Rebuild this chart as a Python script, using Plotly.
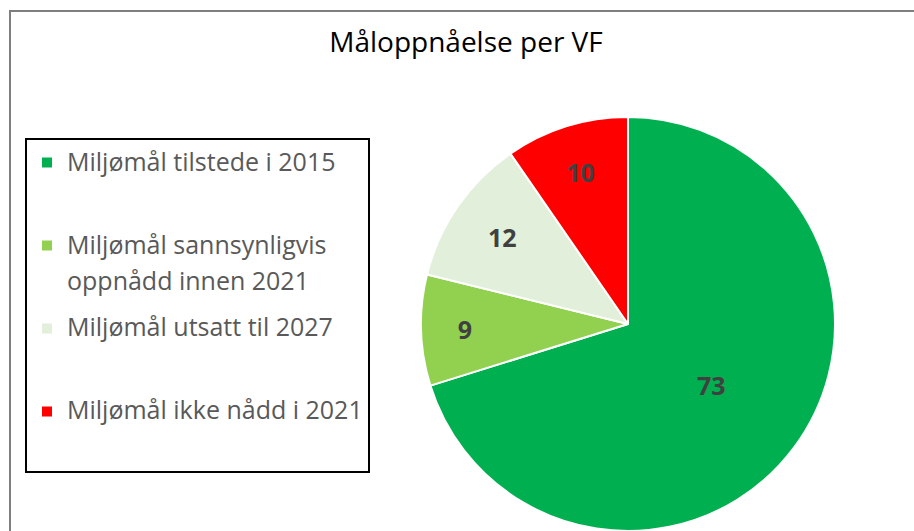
import plotly.graph_objects as go

W, H = 914, 531

categories = [
    "Miljømål tilstede i 2015",
    "Miljømål sannsynligvis<br>oppnådd innen 2021",
    "Miljømål utsatt til 2027",
    "Miljømål ikke nådd i 2021",
]
values = [73, 9, 12, 10]
colors = ["#00B050", "#92D050", "#E2EFDA", "#FF0000"]
title_text = "Måloppnåelse per VF"

# Legend labels are laid on a fine line grid (small base font, large visible glyphs):
# the marker sits on grid line 1, text starts on grid line 2, wrapped lines sit 6 grid
# lines apart, and each entry is padded to a fixed number of grid lines.
def legend_label(label, n):
    lines = label.split("<br>")
    grid = [" "]
    for i, s in enumerate(lines):
        if i > 0:
            grid += [" "] * 5
        grid.append('<span style="font-size:25px">%s</span>' % s)
    while len(grid) < n:
        grid.append(" ")
    return "<br>".join(grid)

grid_lines = [13, 13, 13, 9]
legend_labels = [legend_label(c, n) for c, n in zip(categories, grid_lines)]
plain_names = [c.replace("<br>", " ") for c in categories]

fig = go.Figure()
fig.add_trace(go.Pie(
    labels=legend_labels,
    values=values,
    customdata=plain_names,
    sort=False,
    direction="clockwise",
    rotation=0,
    marker=dict(colors=colors, line=dict(color="white", width=2)),
    textinfo="value",
    textposition="inside",
    insidetextorientation="horizontal",
    textfont=dict(family="Open Sans", size=25, color="#404040", weight="bold"),
    hovertemplate="%{customdata}: %{value}<extra></extra>",
    domain=dict(x=[420 / W, 836 / W], y=[0, 1 - 117 / H]),
))

fig.update_layout(
    width=W, height=H,
    margin=dict(l=0, r=0, t=0, b=0),
    paper_bgcolor="white",
    plot_bgcolor="white",
    title=dict(text=title_text, x=466 / W, y=1 - 42 / H, xanchor="center", yanchor="middle",
               xref="paper", yref="paper",
               font=dict(family="Open Sans", size=28, color="#000000")),
    showlegend=True,
    legend=dict(
        x=25 / W, y=1 - 138 / H, xanchor="left", yanchor="top",
        bgcolor="white", bordercolor="#000000", borderwidth=2,
        valign="top",
        title=dict(text=" ", font=dict(size=10)),
        font=dict(family="Open Sans", size=4.73, color="#595959"),
    ),
    shapes=[dict(type="rect", xref="paper", yref="paper",
                 x0=10 / W, y0=1 - 11 / H, x1=1.05, y1=-0.05,
                 line=dict(color="#7F7F7F", width=2), fillcolor="rgba(0,0,0,0)", layer="below")],
)

fig.write_html("out.html")
